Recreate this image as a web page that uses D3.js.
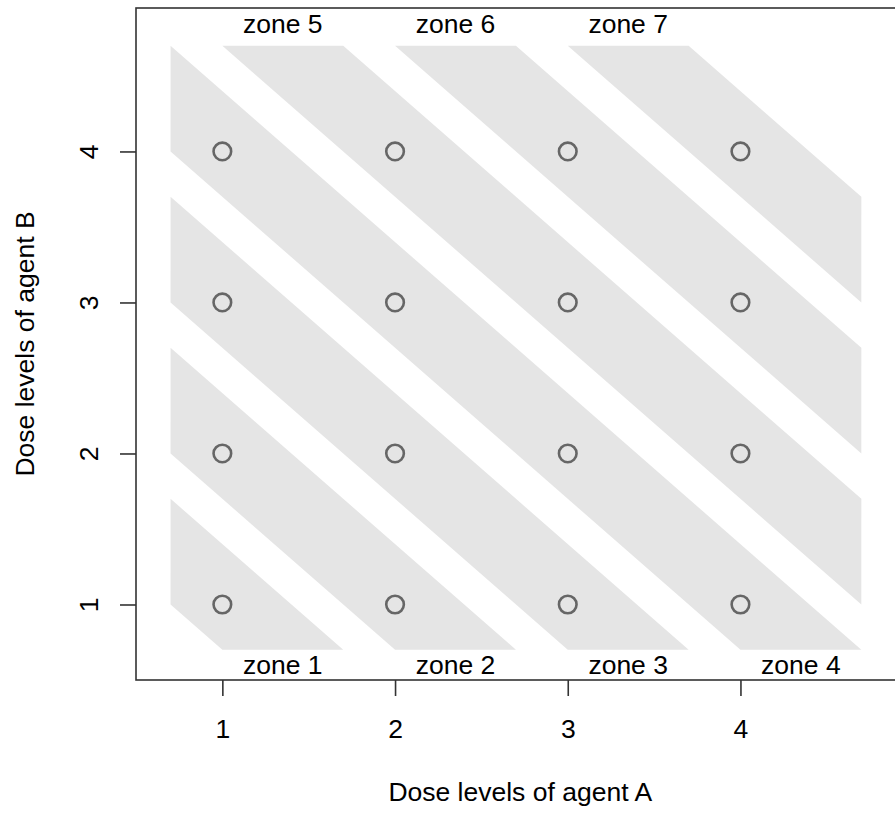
<!DOCTYPE html>
<html>
<head>
<meta charset="utf-8">
<script src="https://cdn.jsdelivr.net/npm/d3@7"></script>
<style>
  body { margin: 0; background: #fff; }
  text { font-family: "Liberation Sans", Arial, Helvetica, sans-serif; fill: #000; }
</style>
</head>
<body>
<div id="chart"></div>
<script>
// dose grid
var doseA = [1, 2, 3, 4];
var doseB = [1, 2, 3, 4];

// each zone is the band lo <= a + b <= hi, clipped to the shaded square
var zoneNames = ['zone 1', 'zone 2', 'zone 3', 'zone 4', 'zone 5', 'zone 6', 'zone 7'];
var zoneLo = [1.7, 2.7, 3.7, 4.7, 5.7, 6.7, 7.7];
var zoneHi = [2.4, 3.4, 4.4, 5.4, 6.4, 7.4, 8.4];
var shadeLim = [0.7, 4.7];

// where the zone names sit (data units)
var labelX = [1.35, 2.35, 3.35, 4.35, 1.35, 2.35, 3.35];
var labelY = [0.6, 0.6, 0.6, 0.6, 4.85, 4.85, 4.85];

var W = 895, H = 814;
var fs = '26.5px';

var x = d3.scaleLinear().domain([0.5, 4.95]).range([136, 136 + 4.45 * 172.7]);
var y = d3.scaleLinear().domain([0.5, 4.95]).range([680, 8]);

// clip a polygon by the half plane s * (a + b - c) >= 0
function clip(poly, c, s) {
    var out = [];
    for (var i = 0; i < poly.length; i++) {
        var p = poly[i], q = poly[(i + 1) % poly.length];
        var fp = s * (p[0] + p[1] - c), fq = s * (q[0] + q[1] - c);
        if (fp >= 0) out.push(p);
        if ((fp >= 0) !== (fq >= 0)) {
            var t = fp / (fp - fq);
            out.push([p[0] + t * (q[0] - p[0]), p[1] + t * (q[1] - p[1])]);
        }
    }
    return out;
}

var lo = shadeLim[0], hi = shadeLim[1];
var square = [[lo, lo], [hi, lo], [hi, hi], [lo, hi]];
var bands = zoneLo.map((l, i) => clip(clip(square, l, 1), zoneHi[i], -1));

var svg = d3.select('#chart').append('svg')
    .attr('width', W)
    .attr('height', H);

svg.append('g')
    .selectAll('path')
    .data(bands)
    .join('path')
    .attr('d', d => 'M' + d.map(p => x(p[0]) + ',' + y(p[1])).join('L') + 'Z')
    .attr('fill', '#e5e5e5');

var pts = [];
doseB.forEach(b => doseA.forEach(a => pts.push([a, b])));

svg.append('g')
    .selectAll('circle')
    .data(pts)
    .join('circle')
    .attr('cx', d => x(d[0]))
    .attr('cy', d => y(d[1]))
    .attr('r', 8.8)
    .attr('fill', 'none')
    .attr('stroke', '#666')
    .attr('stroke-width', 2.6);

svg.append('g')
    .selectAll('text')
    .data(zoneNames)
    .join('text')
    .attr('x', (d, i) => x(labelX[i]))
    .attr('y', (d, i) => y(labelY[i]))
    .attr('dy', '0.36em')
    .attr('text-anchor', 'middle')
    .style('font-size', fs)
    .text(d => d);

// box
svg.append('rect')
    .attr('x', x(0.5))
    .attr('y', y(4.95))
    .attr('width', x(4.95) - x(0.5))
    .attr('height', y(0.5) - y(4.95))
    .attr('fill', 'none')
    .attr('stroke', '#333')
    .attr('stroke-width', 1.6);

var xAxis = svg.append('g')
    .attr('transform', `translate(0,${y(0.5)})`)
    .call(d3.axisBottom(x).tickValues(doseA).tickFormat(d3.format('d')).tickSize(16));
var yAxis = svg.append('g')
    .attr('transform', `translate(${x(0.5)},0)`)
    .call(d3.axisLeft(y).tickValues(doseB).tickFormat(d3.format('d')).tickSize(16));

[xAxis, yAxis].forEach(g => {
    g.select('.domain').remove();
    g.selectAll('.tick line').attr('stroke', '#333').attr('stroke-width', 1.6);
    g.selectAll('.tick text')
        .style('font-size', fs)
        .attr('fill', '#000');
});

xAxis.selectAll('.tick text')
    .attr('y', 58)
    .attr('dy', null);

yAxis.selectAll('.tick text')
    .attr('x', null)
    .attr('dy', null)
    .attr('text-anchor', 'middle')
    .attr('transform', 'translate(-38.5,0) rotate(-90)');

svg.append('text')
    .attr('x', (x(0.5) + x(4.95)) / 2)
    .attr('y', 801)
    .attr('text-anchor', 'middle')
    .style('font-size', fs)
    .text('Dose levels of agent A');

svg.append('text')
    .attr('transform', `translate(34,${(y(0.5) + y(4.95)) / 2}) rotate(-90)`)
    .attr('text-anchor', 'middle')
    .style('font-size', fs)
    .text('Dose levels of agent B');
</script>
</body>
</html>
